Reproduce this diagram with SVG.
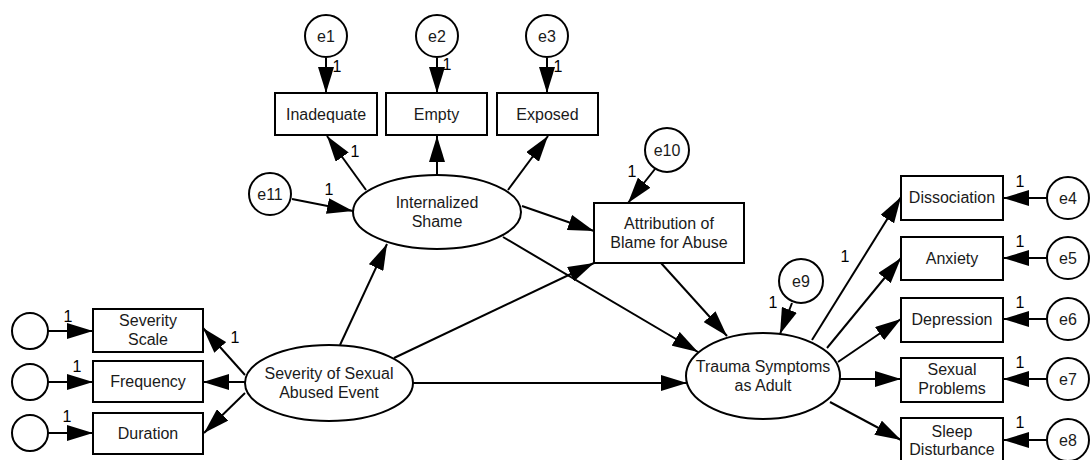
<svg xmlns="http://www.w3.org/2000/svg" width="1092" height="460" viewBox="0 0 1092 460">
<defs>
<marker id="ah" viewBox="0 0 26 16" refX="26" refY="8" markerWidth="26" markerHeight="16" markerUnits="userSpaceOnUse" orient="auto">
<path d="M0,0 L26,8 L0,16 z" fill="#000"/>
</marker>
<style>
.n{fill:#fff;stroke:#000;stroke-width:2}
.t{font-family:"Liberation Sans",Arial,sans-serif;font-size:16px;fill:#1a1a1a;text-anchor:middle}
.e{font-size:16px}
.c{stroke:#000;stroke-width:2;fill:none;marker-end:url(#ah)}
.w{font-family:"Liberation Sans",Arial,sans-serif;font-size:16px;fill:#000;text-anchor:middle}
</style>
</defs>
<rect width="1092" height="460" fill="#fff"/>
<g id="connectors">
<path class="c" d="M326,58 L326,93"/>
<path class="c" d="M437,58 L437,93"/>
<path class="c" d="M547,58 L547,93"/>
<path class="c" d="M366,190 L327,136"/>
<path class="c" d="M437,175 L437,136"/>
<path class="c" d="M508,190 L548,136"/>
<path class="c" d="M292,199 L353,211"/>
<path class="c" d="M522,206 L594,231"/>
<path class="c" d="M503,237 L698,352"/>
<path class="c" d="M340,345 L387,244"/>
<path class="c" d="M394,358 L594,263"/>
<path class="c" d="M661,263 L727,336"/>
<path class="c" d="M413,383 L687,383"/>
<path class="c" d="M655,169 L628,203"/>
<path class="c" d="M792,303 L780,334"/>
<path class="c" d="M812,340 L901,197"/>
<path class="c" d="M827,348 L901,258"/>
<path class="c" d="M838,362 L901,319"/>
<path class="c" d="M840,379 L901,379"/>
<path class="c" d="M830,402 L901,440"/>
<path class="c" d="M1047,198 L1003,198"/>
<path class="c" d="M1047,258 L1003,258"/>
<path class="c" d="M1047,319 L1003,319"/>
<path class="c" d="M1047,379 L1003,379"/>
<path class="c" d="M1047,440 L1003,440"/>
<path class="c" d="M48,331 L93,331"/>
<path class="c" d="M48,382 L93,382"/>
<path class="c" d="M48,433 L93,433"/>
<path class="c" d="M245,375 L203,328"/>
<path class="c" d="M245,382 L203,382"/>
<path class="c" d="M245,393 L204,433"/>
</g>
<g id="weights">
<text class="w" x="337" y="72">1</text>
<text class="w" x="447" y="70">1</text>
<text class="w" x="558" y="72">1</text>
<text class="w" x="355" y="157">1</text>
<text class="w" x="329" y="195">1</text>
<text class="w" x="632" y="177">1</text>
<text class="w" x="773" y="308">1</text>
<text class="w" x="845" y="262">1</text>
<text class="w" x="1020" y="187">1</text>
<text class="w" x="1020" y="247">1</text>
<text class="w" x="1020" y="308">1</text>
<text class="w" x="1020" y="368">1</text>
<text class="w" x="1020" y="428">1</text>
<text class="w" x="68" y="322">1</text>
<text class="w" x="77" y="372">1</text>
<text class="w" x="67" y="422">1</text>
<text class="w" x="235" y="343">1</text>
</g>
<g id="e1"><circle class="n" cx="326" cy="36" r="21"/><text class="t e" x="326" y="42">e1</text></g>
<g id="e2"><circle class="n" cx="437" cy="36" r="21"/><text class="t e" x="437" y="42">e2</text></g>
<g id="e3"><circle class="n" cx="547" cy="36" r="21"/><text class="t e" x="547" y="42">e3</text></g>
<g id="inadequate"><rect class="n" x="275" y="93" width="102" height="42"/><text class="t" x="326" y="120">Inadequate</text></g>
<g id="empty"><rect class="n" x="386" y="93" width="101" height="42"/><text class="t" x="436.5" y="120">Empty</text></g>
<g id="exposed"><rect class="n" x="497" y="93" width="101" height="42"/><text class="t" x="547.5" y="120">Exposed</text></g>
<g id="e11"><circle class="n" cx="270" cy="194" r="21"/><text class="t e" x="270" y="200">e11</text></g>
<g id="shame"><ellipse class="n" cx="437" cy="212" rx="84" ry="37"/><text class="t" x="437" y="208">Internalized</text><text class="t" x="437" y="227">Shame</text></g>
<g id="e10"><circle class="n" cx="667" cy="150" r="22"/><text class="t e" x="667" y="156">e10</text></g>
<g id="attribution"><rect class="n" x="594" y="203" width="150" height="60"/><text class="t" x="669" y="229">Attribution of</text><text class="t" x="669" y="248">Blame for Abuse</text></g>
<g id="e9"><circle class="n" cx="801" cy="281" r="22"/><text class="t e" x="801" y="287">e9</text></g>
<g id="trauma"><ellipse class="n" cx="763" cy="376" rx="77" ry="43"/><text class="t" x="763" y="372">Trauma Symptoms</text><text class="t" x="763" y="391">as Adult</text></g>
<g id="event"><ellipse class="n" cx="329" cy="383" rx="84" ry="38"/><text class="t" x="329" y="379">Severity of Sexual</text><text class="t" x="329" y="398">Abused Event</text></g>
<g id="severity-scale"><rect class="n" x="93" y="309" width="110" height="43"/><text class="t" x="148" y="326">Severity</text><text class="t" x="148" y="345">Scale</text></g>
<g id="frequency"><rect class="n" x="93" y="361" width="110" height="41"/><text class="t" x="148" y="387">Frequency</text></g>
<g id="duration"><rect class="n" x="93" y="413" width="110" height="41"/><text class="t" x="148" y="439">Duration</text></g>
<g id="c1"><circle class="n" cx="30" cy="331" r="18"/></g>
<g id="c2"><circle class="n" cx="30" cy="382" r="18"/></g>
<g id="c3"><circle class="n" cx="30" cy="433" r="18"/></g>
<g id="dissociation"><rect class="n" x="901" y="176" width="102" height="44"/><text class="t" x="952" y="203">Dissociation</text></g>
<g id="anxiety"><rect class="n" x="901" y="237" width="102" height="43"/><text class="t" x="952" y="264">Anxiety</text></g>
<g id="depression"><rect class="n" x="901" y="298" width="102" height="44"/><text class="t" x="952" y="325">Depression</text></g>
<g id="sexual"><rect class="n" x="901" y="358" width="102" height="44"/><text class="t" x="952" y="375">Sexual</text><text class="t" x="952" y="394">Problems</text></g>
<g id="sleep"><rect class="n" x="901" y="418" width="102" height="50"/><text class="t" x="952" y="437">Sleep</text><text class="t" x="952" y="455">Disturbance</text></g>
<g id="e4"><circle class="n" cx="1068" cy="198" r="21"/><text class="t e" x="1068" y="204">e4</text></g>
<g id="e5"><circle class="n" cx="1068" cy="258" r="21"/><text class="t e" x="1068" y="264">e5</text></g>
<g id="e6"><circle class="n" cx="1068" cy="319" r="21"/><text class="t e" x="1068" y="325">e6</text></g>
<g id="e7"><circle class="n" cx="1068" cy="379" r="21"/><text class="t e" x="1068" y="385">e7</text></g>
<g id="e8"><circle class="n" cx="1068" cy="440" r="21"/><text class="t e" x="1068" y="446">e8</text></g>
</svg>
